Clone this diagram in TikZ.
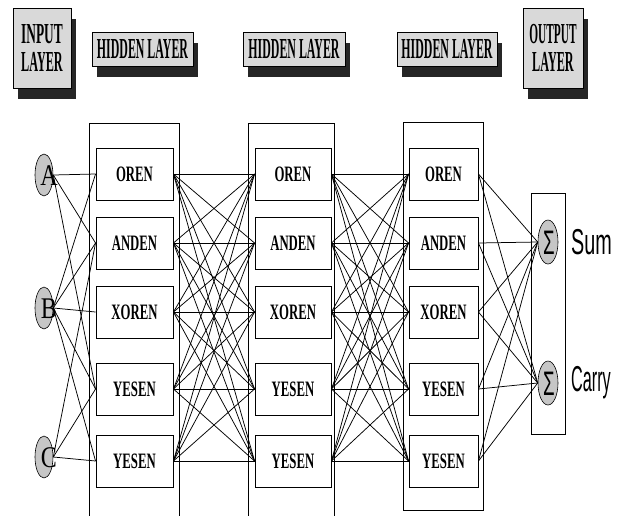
\documentclass[tikz,border=0pt]{standalone}
\usepackage{fontspec}
\usepackage{graphicx}
\setmainfont{Liberation Serif}
\newfontfamily\sansf{Liberation Sans}
\usetikzlibrary{shapes.geometric,shadows}
\newcommand{\sq}[2]{\scalebox{#1}[1]{#2}}
\tikzset{
  lab/.style={draw=black, line width=0.8pt, fill=gray!30, inner sep=0pt, align=center,
    font=\bfseries\fontsize{29}{28}\selectfont,
    drop shadow={shadow xshift=5pt, shadow yshift=-11pt, fill=black!85, opacity=1}},
  hbox/.style={draw, line width=0.9pt, fill=white, minimum height=52pt, inner sep=0pt,
    font=\bfseries\fontsize{22}{22}\selectfont},
  outer/.style={draw, line width=0.8pt},
  inell/.style={ellipse, draw, line width=0.6pt, fill=gray!45, minimum width=18pt,
    minimum height=42pt, inner sep=0pt},
  letter/.style={inner sep=0pt, font=\fontsize{30}{30}\selectfont},
  sig/.style={inner sep=0pt, font=\sansf\fontsize{34}{34}\selectfont},
  outtxt/.style={inner sep=0pt, anchor=west, font=\sansf\fontsize{36}{36}\selectfont},
  conn/.style={line width=0.75pt}
}
\begin{document}
\begin{tikzpicture}[x=1pt,y=-1pt]
\useasboundingbox (0,0) rectangle (621,515);
\clip (0,0) rectangle (621,515);

% layer labels
\node[lab, minimum width=58pt, minimum height=80pt] (inl) at (42,48)
  {\sq{0.46}{INPUT}\\\sq{0.42}{LAYER}};
\node[lab, minimum width=101pt, minimum height=34pt] (h1l) at (142.5,49) {\sq{0.41}{HIDDEN LAYER}};
\node[lab, minimum width=102pt, minimum height=34pt] (h2l) at (294,49) {\sq{0.41}{HIDDEN LAYER}};
\node[lab, minimum width=100pt, minimum height=34pt] (h3l) at (447,49) {\sq{0.41}{HIDDEN LAYER}};
\node[lab, minimum width=60pt, minimum height=80pt] (outl) at (553,48)
  {\sq{0.39}{OUTPUT}\\\sq{0.42}{LAYER}};

% column frames
\draw[outer] (89,123) rectangle (179,530);
\draw[outer] (248,123) rectangle (334,530);
\draw[outer] (403,122) rectangle (483,510);
\draw[outer] (531,193) rectangle (565,434);

% hidden units
\foreach \t/\y [count=\i] in {OREN/174, ANDEN/243, XOREN/312, YESEN/389, YESEN/461} {
  \node[hbox, minimum width=77pt] (a\i) at (134.5,\y) {\sq{0.58}{\t}};
  \node[hbox, minimum width=76pt] (b\i) at (293,\y) {\sq{0.58}{\t}};
  \node[hbox, minimum width=69pt] (c\i) at (443.5,\y) {\sq{0.58}{\t}};
}

% inputs
\node[inell] (A) at (44,175) {};
\node[inell] (B) at (44,308) {};
\node[inell] (C) at (44,457) {};
\node[letter] (Al) at (49,176) {\sq{0.8}{A}};
\node[letter] (Bl) at (49,309) {\sq{0.8}{B}};
\node[letter] (Cl) at (49,458) {\sq{0.8}{C}};

% outputs
\node[inell, minimum width=20pt, minimum height=44pt] (S) at (548,242) {};
\node[inell, minimum width=20pt, minimum height=44pt] (K) at (548,383) {};
\node[sig] (Ss) at (549,243) {\sq{0.55}{Σ}};
\node[sig] (Ks) at (549,384) {\sq{0.55}{Σ}};
\node[outtxt] (sum) at (571,242) {\sq{0.55}{Sum}};
\node[outtxt] (carry) at (571,383) {\sq{0.45}{Carry}};

% connections
\foreach \j in {1,2,4} \draw[conn] (A.east) -- (a\j.west);
\foreach \j in {1,...,5} \draw[conn] (B.east) -- (a\j.west);
\foreach \j in {2,4,5} \draw[conn] (C.east) -- (a\j.west);
\foreach \i in {1,...,5} {
  \foreach \j in {1,...,5} {
    \draw[conn] (a\i.east) -- (b\j.west);
    \draw[conn] (b\i.east) -- (c\j.west);
  }
  \draw[conn] (c\i.east) -- (S.west);
  \draw[conn] (c\i.east) -- (K.west);
}
\end{tikzpicture}
\end{document}
